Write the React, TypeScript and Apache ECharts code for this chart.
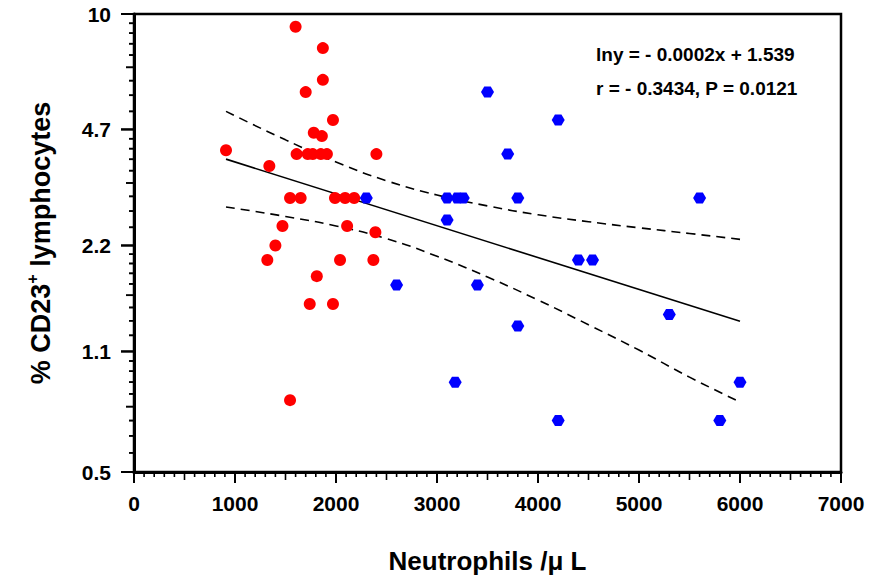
import React, { useEffect, useRef } from "react";
import * as echarts from "echarts";

// ---- data ----
const redX = [911, 1600, 1870, 1870, 1700, 1970, 1780, 1860, 1610, 1720, 1770, 1850, 1910, 2400, 1340, 1545, 1650, 1990, 2090, 2180, 1470, 2110, 2390, 1400, 1320, 2040, 2370, 1810, 1740, 1970, 1545];
const redY = [4.1, 9.2, 8.0, 6.5, 6.0, 5.0, 4.6, 4.5, 4.0, 4.0, 4.0, 4.0, 4.0, 4.0, 3.7, 3.0, 3.0, 3.0, 3.0, 3.0, 2.5, 2.5, 2.4, 2.2, 2.0, 2.0, 2.0, 1.8, 1.5, 1.5, 0.8];

const blueX = [2300, 2600, 3500, 4200, 3700, 3100, 3200, 3260, 3800, 5600, 3100, 4400, 4540, 3400, 3800, 5300, 3180, 6000, 4200, 5800];
const blueY = [3.0, 1.7, 6.0, 5.0, 4.0, 3.0, 3.0, 3.0, 3.0, 3.0, 2.6, 2.0, 2.0, 1.7, 1.3, 1.4, 0.9, 0.9, 0.7, 0.7];

const regX = [911, 6000];
const regY = [3.87, 1.34];

const bandX = [911, 1500, 2000, 2500, 3000, 3500, 4000, 4500, 5000, 5500, 6000];
const upperY = [5.29, 4.39, 3.8, 3.36, 3.06, 2.85, 2.69, 2.57, 2.47, 2.38, 2.29];
const lowerY = [2.83, 2.66, 2.5, 2.3, 2.05, 1.79, 1.54, 1.31, 1.11, 0.93, 0.79];

const yTickLabels = [0.5, 1.1, 2.2, 4.7, 10];
const xMin = 0;
const xMax = 7000;
const xInterval = 1000;

const annotation1 = "lny = - 0.0002x + 1.539";
const annotation2 = "r = - 0.3434, P = 0.0121";

const FONT = "'Liberation Sans', Arial, Helvetica, sans-serif";

const pts = (xs: number[], ys: number[]) => xs.map((x, i) => [x, Math.log(ys[i])]);

const HEX = "path://M0,5 L3,0 L9,0 L12,5 L9,10 L3,10 Z";

const tickRender = (_params: any, api: any) => {
  const p = api.coord([api.value(0), api.value(1)]);
  return {
    type: "line",
    shape: { x1: p[0], y1: p[1], x2: p[0] + api.value(2), y2: p[1] + api.value(3) },
    style: { stroke: "#000", lineWidth: api.value(4) },
  };
};

export default function App() {
  const ref = useRef<HTMLDivElement>(null);
  useEffect(() => {
    if (!ref.current) return;
    const chart = echarts.init(ref.current, null, { renderer: "svg" });
    const yMin = Math.log(0.5);
    const yMax = Math.log(10);

    // axis tick decoration: [x, y, dx, dy, width]
    const yTicks: number[][] = [];
    yTickLabels.forEach((v) => yTicks.push([xMin, Math.log(v), -13, 0, 2]));
    for (let i = 0; i < yTickLabels.length - 1; i++) {
      const a = yTickLabels[i];
      const b = yTickLabels[i + 1];
      for (let k = 1; k <= 8; k++) {
        const v = a + (k * (b - a)) / 9;
        yTicks.push([xMin, Math.log(v), k === 4 ? -8 : -5, 0, 1.6]);
      }
    }
    const xTicks: number[][] = [];
    for (let x = xMin + 100; x < xMax; x += 100) {
      if (x % 1000 === 0) continue;
      xTicks.push([x, yMin, 0, x % 500 === 0 ? 8 : 5, 1.6]);
    }

    const texts = [
      {
        type: "text",
        left: 596,
        top: 45,
        style: { text: annotation1, fill: "#000", font: `bold 19px ${FONT}` },
      },
      {
        type: "text",
        left: 596,
        top: 79,
        style: { text: annotation2, fill: "#000", font: `bold 19px ${FONT}` },
      },
    ];

    chart.setOption({
      animation: false,
      backgroundColor: "#fff",
      grid: {
        left: 134,
        right: 30,
        top: 14,
        bottom: 109,
        show: true,
        borderColor: "#000",
        borderWidth: 2.5,
        backgroundColor: "transparent",
      },
      xAxis: {
        type: "value",
        min: xMin,
        max: xMax,
        interval: xInterval,
        splitLine: { show: false },
        axisLine: { onZero: false, lineStyle: { color: "#000", width: 3 } },
        axisTick: { length: 11, lineStyle: { color: "#000", width: 2 } },
        axisLabel: {
          color: "#000",
          fontFamily: FONT,
          fontWeight: "bold",
          fontSize: 21,
          margin: 21,
          formatter: (v: number) => String(v),
        },
        name: "Neutrophils /\u03bc L",
        nameLocation: "middle",
        nameGap: 76,
        nameTextStyle: { color: "#000", fontFamily: FONT, fontWeight: "bold", fontSize: 26 },
      },
      yAxis: {
        type: "value",
        min: yMin,
        max: yMax,
        splitLine: { show: false },
        axisLine: { onZero: false, lineStyle: { color: "#000", width: 3 } },
        axisTick: { show: false },
        axisLabel: {
          customValues: yTickLabels.map((v) => Math.log(v)),
          formatter: (v: number) => String(Number(Math.exp(v).toPrecision(3))),
          color: "#000",
          fontFamily: FONT,
          fontWeight: "bold",
          fontSize: 21,
          margin: 23,
        },
        name: "{a|% CD23}{s|+}{a| lymphocytes}",
        nameLocation: "middle",
        nameRotate: 90,
        nameGap: 77,
        nameTextStyle: {
          rich: {
            a: { color: "#000", fontFamily: FONT, fontWeight: "bold", fontSize: 27, lineHeight: 33 },
            s: { color: "#000", fontFamily: FONT, fontWeight: "bold", fontSize: 16, lineHeight: 16, verticalAlign: "top" },
          },
        },
      },
      graphic: texts,
      series: [
        {
          type: "custom",
          coordinateSystem: "cartesian2d",
          silent: true,
          clip: false,
          z: 1,
          data: yTicks,
          renderItem: tickRender,
        },
        {
          type: "custom",
          coordinateSystem: "cartesian2d",
          silent: true,
          clip: false,
          z: 1,
          data: xTicks,
          renderItem: tickRender,
        },
        {
          type: "line",
          data: pts(bandX, upperY),
          smooth: true,
          showSymbol: false,
          lineStyle: { color: "#000", width: 1.6, type: [9, 6] },
          z: 2,
        },
        {
          type: "line",
          data: pts(bandX, lowerY),
          smooth: true,
          showSymbol: false,
          lineStyle: { color: "#000", width: 1.6, type: [9, 6] },
          z: 2,
        },
        {
          type: "line",
          data: pts(regX, regY),
          showSymbol: false,
          lineStyle: { color: "#000", width: 1.6 },
          z: 2,
        },
        {
          type: "scatter",
          data: pts(redX, redY),
          symbol: "circle",
          symbolSize: 12,
          itemStyle: { color: "#ff0000", opacity: 1 },
          z: 3,
        },
        {
          type: "scatter",
          data: pts(blueX, blueY),
          symbol: HEX,
          symbolSize: [13, 11],
          itemStyle: { color: "#0000ff", opacity: 1 },
          z: 3,
        },
      ],
    });

    // y ticks also as graphic lines placed through the grid's own scale
    const tickLines = yTicks.map((t) => {
      const p = chart.convertToPixel({ gridIndex: 0 }, [t[0], t[1]]) as number[];
      return {
        type: "line",
        silent: true,
        z: 100,
        shape: { x1: p[0], y1: p[1], x2: p[0] + t[2], y2: p[1] + t[3] },
        style: { stroke: "#000", lineWidth: t[4] },
      };
    });
    chart.setOption({ graphic: [...texts, ...tickLines] });

    return () => chart.dispose();
  }, []);
  return (
    <div
      ref={ref}
      style={{ position: "fixed", left: 0, top: 0, width: 871, height: 581, background: "#fff" }}
    />
  );
}
